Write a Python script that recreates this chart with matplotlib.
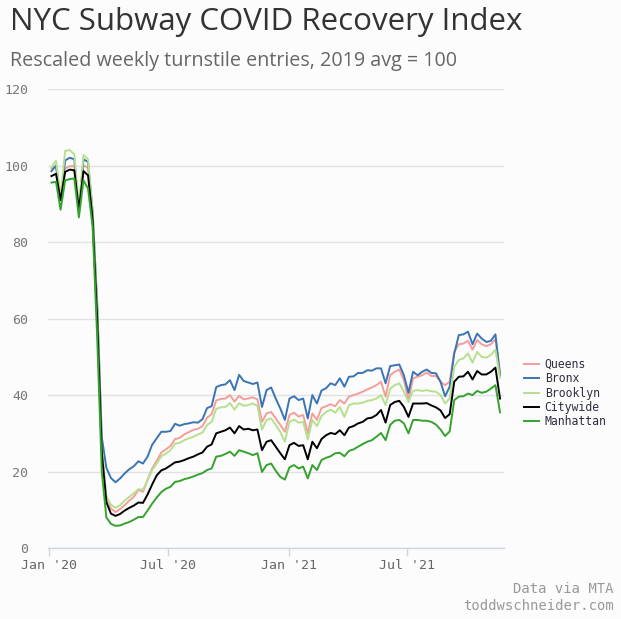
#!/usr/bin/env python3
"""
NYC Subway COVID Recovery Index - weekly turnstile entries rescaled, 2019 avg = 100
"""
import matplotlib
matplotlib.use('Agg')
import matplotlib.pyplot as plt
import matplotlib.dates as mdates
import pandas as pd

# Weekly values (week ending Saturdays)
weeks = pd.date_range('2020-01-04', periods=99, freq='7D')

queens = [
    99.3, 99.5, 92.5, 99.3, 99.9, 99.9, 89.0, 100.1, 99.5, 87.0,
    62.0, 26.0, 13.0, 10.3, 9.4, 10.2, 11.2, 12.4, 13.4, 15.2,
    14.7, 17.8, 20.8, 22.8, 25.0, 25.8, 26.7, 28.5, 28.8, 29.7,
    30.3, 30.9, 31.2, 31.9, 34.1, 35.0, 38.6, 39.0, 39.1, 40.0,
    38.3, 39.8, 38.9, 39.1, 39.4, 38.9, 33.0, 35.2, 35.6, 33.9,
    32.2, 30.4, 34.8, 35.4, 34.4, 34.8, 30.0, 35.2, 33.5, 36.6,
    37.1, 37.6, 37.1, 38.7, 37.8, 39.6, 40.0, 40.4, 40.9, 41.5,
    42.0, 42.6, 43.5, 39.6, 45.2, 46.1, 46.7, 43.9, 38.7, 44.4,
    44.8, 45.2, 45.9, 45.0, 45.0, 43.5, 42.6, 43.5, 51.3, 53.3,
    53.5, 54.2, 51.9, 54.4, 53.3, 52.8, 53.3, 54.6, 45.8,
]

bronx = [
    98.6, 100.1, 91.0, 101.4, 102.1, 101.7, 87.5, 101.7, 101.0, 88.0,
    64.0, 29.0, 21.0, 18.3, 17.2, 18.2, 19.5, 20.6, 21.4, 22.7,
    22.1, 23.9, 27.0, 28.7, 30.4, 30.4, 30.6, 32.5, 32.0, 32.4,
    32.6, 32.9, 32.8, 33.7, 36.6, 37.1, 42.1, 42.6, 42.8, 43.9,
    41.3, 45.3, 43.7, 43.3, 42.9, 43.3, 36.9, 41.3, 42.0, 39.1,
    36.5, 33.5, 39.1, 39.7, 38.7, 39.1, 33.9, 40.0, 37.8, 41.2,
    41.8, 43.1, 42.6, 44.4, 42.2, 44.8, 44.9, 45.8, 45.8, 46.5,
    46.4, 47.0, 47.0, 43.1, 47.6, 47.8, 48.0, 45.2, 40.6, 46.1,
    45.2, 46.1, 46.7, 45.8, 45.7, 43.5, 39.7, 42.2, 50.9, 55.7,
    55.9, 56.6, 53.3, 56.1, 54.8, 53.9, 54.2, 55.9, 45.2,
]

brooklyn = [
    99.6, 101.3, 92.0, 103.9, 104.1, 103.0, 89.5, 102.8, 101.7, 88.0,
    63.0, 26.0, 13.5, 11.3, 10.5, 11.2, 12.4, 13.4, 14.3, 15.4,
    15.2, 17.8, 20.4, 22.1, 24.0, 24.7, 25.6, 27.3, 27.5, 28.2,
    28.7, 29.1, 29.7, 30.2, 32.2, 33.0, 36.4, 36.8, 36.9, 37.9,
    36.2, 37.9, 37.2, 37.4, 37.8, 37.2, 31.0, 33.5, 33.9, 32.2,
    30.4, 27.8, 33.0, 33.6, 32.8, 33.0, 28.4, 33.5, 31.9, 34.5,
    35.6, 36.2, 35.4, 36.9, 34.3, 37.4, 37.8, 37.8, 38.0, 38.5,
    38.7, 39.1, 40.0, 37.4, 41.7, 42.6, 43.1, 40.9, 38.2, 41.1,
    41.3, 41.1, 41.3, 41.0, 40.9, 40.0, 37.8, 39.1, 47.4, 49.2,
    49.6, 50.9, 48.5, 51.3, 50.0, 49.8, 50.5, 51.9, 44.5,
]

citywide = [
    97.3, 97.9, 91.0, 98.4, 99.0, 98.8, 88.5, 98.6, 97.5, 86.0,
    60.0, 25.0, 12.0, 9.0, 8.4, 8.9, 9.8, 10.5, 11.1, 11.9,
    11.8, 14.0, 16.6, 19.0, 20.3, 20.8, 21.6, 22.4, 22.6, 23.0,
    23.5, 23.9, 24.5, 25.0, 26.5, 27.1, 30.0, 30.4, 30.8, 31.5,
    30.0, 31.9, 31.0, 31.2, 30.8, 31.0, 25.6, 27.8, 28.2, 26.5,
    24.8, 23.2, 26.9, 27.5, 26.7, 26.9, 23.2, 27.8, 26.1, 28.5,
    29.5, 30.1, 29.8, 30.8, 29.5, 31.5, 31.9, 32.6, 33.0, 33.9,
    34.1, 34.8, 36.1, 32.8, 37.4, 38.2, 38.5, 36.9, 34.3, 37.8,
    37.8, 37.8, 37.9, 37.3, 36.8, 36.0, 34.0, 35.0, 43.5, 44.8,
    44.9, 46.1, 44.1, 46.3, 45.4, 45.4, 46.1, 47.2, 39.1,
]

manhattan = [
    95.6, 95.8, 88.5, 96.2, 96.5, 96.7, 86.5, 96.2, 94.0, 84.0,
    55.0, 20.0, 8.0, 6.3, 5.8, 5.9, 6.4, 6.8, 7.4, 8.1,
    8.1, 9.8, 11.6, 13.2, 14.6, 15.5, 16.0, 17.3, 17.5, 18.0,
    18.3, 18.7, 19.2, 19.6, 20.4, 20.8, 23.9, 24.1, 24.6, 25.2,
    24.1, 25.6, 25.2, 24.8, 24.3, 24.8, 19.9, 21.7, 22.1, 20.2,
    18.6, 17.9, 21.1, 21.7, 20.8, 21.3, 18.2, 21.7, 20.4, 23.0,
    23.6, 24.0, 24.8, 24.9, 24.0, 25.4, 25.8, 26.5, 27.2, 27.8,
    28.2, 29.1, 30.1, 28.2, 32.2, 33.3, 33.5, 32.6, 30.0, 33.5,
    33.5, 33.3, 33.3, 33.0, 32.3, 31.0, 29.3, 30.5, 38.7, 39.6,
    39.7, 40.4, 40.0, 41.1, 40.6, 40.9, 41.7, 42.6, 35.5,
]

series = [
    ('Queens', queens, '#f59d9a'),
    ('Bronx', bronx, '#3a74b4'),
    ('Brooklyn', brooklyn, '#b5e08e'),
    ('Citywide', citywide, '#000000'),
    ('Manhattan', manhattan, '#35a22e'),
]

bg = '#fcfcfc'
mono = ['DejaVu Sans Mono']

fig = plt.figure(figsize=(6.21, 6.19), dpi=100, facecolor=bg)
ax = fig.add_axes([0.0765, 0.1147, 0.735, 0.741], facecolor=bg)

for name, vals, col in series:
    ax.plot(weeks, vals, color=col, linewidth=1.4, label=name)

ax.set_ylim(0, 120)
ax.set_xlim(pd.Timestamp('2019-12-29'), pd.Timestamp('2021-11-26'))
ax.set_yticks([0, 20, 40, 60, 80, 100, 120])
ax.grid(axis='y', color='#e2e2e2', linewidth=1)
ax.set_axisbelow(True)

for s in ['top', 'right', 'left']:
    ax.spines[s].set_visible(False)
ax.spines['bottom'].set_color('#cfd5e2')
ax.spines['bottom'].set_linewidth(1)

ax.xaxis.set_major_locator(mdates.MonthLocator(bymonth=[1, 7]))
ax.xaxis.set_major_formatter(mdates.DateFormatter("%b '%y"))
ax.tick_params(axis='x', colors='#cfd5e2', length=6, width=1, labelcolor='#666666',
               labelsize=9.5, pad=2)
ax.tick_params(axis='y', length=0, labelcolor='#777777', labelsize=9.5, pad=14)
for lbl in ax.get_xticklabels() + ax.get_yticklabels():
    lbl.set_family(mono)

# Titles
fig.text(0.016, 0.965, 'NYC Subway COVID Recovery Index', fontsize=22.5,
         family='Open Sans', color='#333333', va='center', ha='left')
fig.text(0.016, 0.901, 'Rescaled weekly turnstile entries, 2019 avg = 100', fontsize=14.2,
         family='Open Sans', color='#666666', va='center', ha='left')

# Legend
leg = fig.legend(loc='center left', bbox_to_anchor=(0.8438, 0.365), frameon=False,
                 prop={'family': mono, 'size': 8.3}, handlelength=1.3,
                 handletextpad=0.5, labelspacing=0.12, borderpad=0,
                 borderaxespad=0)
for t in leg.get_texts():
    t.set_color('#2e2e40')

# Caption
fig.text(0.988, 0.048, 'Data via MTA', fontsize=10, family=mono, color='#999999',
         ha='right', va='center')
fig.text(0.988, 0.021, 'toddwschneider.com', fontsize=10, family=mono, color='#999999',
         ha='right', va='center')

plt.savefig('out.png', dpi=100, facecolor=bg)
